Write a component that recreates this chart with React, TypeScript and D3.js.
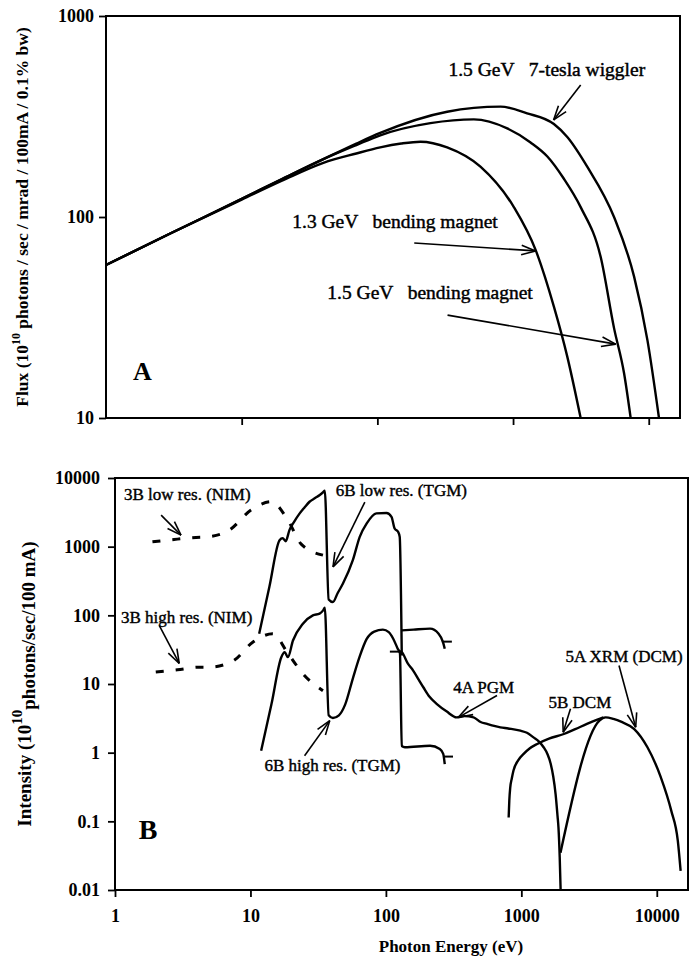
import React, { useEffect, useRef } from 'react';
import * as d3 from 'd3';

// ---- Panel A: flux curves (photon energy eV -> flux) ----
const wigglerEnergy = [1, 3, 10, 20, 40, 70, 105, 327, 809, 1270, 2000, 2510, 3520, 5550, 7800, 9780, 11900];
const wigglerFlux = [57.7, 83, 123, 155, 194, 232, 262, 334, 354, 328, 290, 250, 178, 100, 50.5, 24.4, 10];

const bm15Energy = [1, 3, 10, 20, 40, 70, 105, 246, 514, 906, 1346, 1790, 2370, 3150, 4430, 5550, 6580, 7360];
const bm15Flux = [57.7, 83, 123, 155, 194, 228, 255, 293, 306, 276, 235, 200, 155, 112, 63, 28, 16.7, 10];

const bm13Energy = [1, 3, 10, 20, 40, 70, 105, 150, 208, 327, 575, 1014, 1466, 2000, 2510, 3150];
const bm13Flux = [57.7, 83, 122, 152, 186, 207, 222, 232, 237, 222, 178, 112, 68.6, 35.8, 20.2, 10];

const fluxTicks = [10, 100, 1000];
const energyTicksA = [10, 100, 1000, 10000];

// ---- Panel B: beamline intensities ----
const nimLowEnergy = [1.89, 2.73, 3.96, 4.83, 6.98, 10.1, 14.2, 18.9, 23.7, 34.3];
const nimLowIntensity = [1175, 1273, 1362, 1390, 1740, 3410, 4510, 2440, 1087, 752];

const nimHighEnergy = [2.0, 2.89, 4.19, 4.97, 7.4, 10.4, 14.6, 18.9, 24.4, 34.3];
const nimHighIntensity = [14.9, 16.1, 17.6, 17.6, 21.5, 40.7, 54, 28, 14.1, 8.0];

const tgmLowEnergy = [11.6, 13.8, 16.4, 17.3, 18.2, 19.4, 21, 23.1, 25, 27.3, 30, 32.5, 34.4, 35.4, 37.8, 40.6, 44, 48.2, 57, 64.1, 72.2, 85, 101, 110, 116, 123, 126.5, 131];
const tgmLowIntensity = [54, 261, 1245, 1330, 1200, 1740, 2300, 3050, 3700, 4510, 5100, 5650, 6200, 6530, 170, 156, 210, 290, 635, 1390, 2180, 3050, 3100, 2720, 1840, 1650, 1390, 26];
const tgmLowTailEnergy = [131, 160, 212, 245, 264, 272];
const tgmLowTailIntensity = [60.4, 62, 64, 54, 40.7, 32.6];

const tgmHighEnergy = [12, 14.3, 16.9, 17.9, 18.9, 20.6, 24.4, 28.9, 32.4, 34.4, 35.4, 37.8, 40.6, 45, 50, 57, 64, 72, 82, 95, 105, 113, 122, 127, 131, 138, 212, 250, 265, 272];
const tgmHighIntensity = [1.07, 5.1, 24.6, 29, 24.6, 43, 75.7, 100, 106, 118, 129, 3.5, 3.2, 3.5, 5, 12, 25, 45, 58, 62, 57, 46, 33, 28, 1.25, 1.2, 1.26, 1.13, 0.96, 0.68];

const pgmEnergy = [127, 131, 145, 159, 175, 189, 210, 238, 280, 333, 380, 444, 500, 559, 630, 700, 800, 984, 1100, 1230, 1350, 1460, 1560, 1650, 1720, 1790, 1850, 1880, 1920, 1950];
const pgmIntensity = [30, 29.1, 20, 15.7, 11.5, 8.97, 6.5, 5.1, 4.0, 3.27, 3.4, 3.27, 2.8, 2.62, 2.45, 2.34, 2.25, 2.09, 1.95, 1.67, 1.45, 1.2, 0.95, 0.68, 0.45, 0.25, 0.12, 0.081, 0.03, 0.01];

const dcmEnergy = [806, 815, 828, 850, 875, 950, 1040, 1150, 1310, 1600, 2060, 2500, 3050, 3600, 4040];
const dcmIntensity = [0.114, 0.2, 0.31, 0.42, 0.55, 0.78, 0.96, 1.15, 1.34, 1.6, 1.87, 2.2, 2.62, 3.0, 3.27];

const xrmEnergy = [1945, 3770, 4190, 4780, 5500, 6820, 8530, 10700, 12800, 14300, 15000];
const xrmIntensity = [0.035, 2.93, 3.27, 3.1, 2.8, 2.21, 1.2, 0.44, 0.142, 0.052, 0.019];

// little end marks on the curves [eStart, eEnd, value]
const curveMarks = [
  [259, 307, 41.4],
  [265, 313, 0.877],
  [107, 127, 29.6],
];

const intensityTicks = [0.01, 0.1, 1, 10, 100, 1000, 10000];
const energyTicksB = [1, 10, 100, 1000, 10000];

// labels: text anchor (energy, value), arrow tail and tip (energy, value)
const labelsA = [
  { text: '1.5 GeV   7-tesla wiggler', e: 334, v: 502, from: [3150, 454], to: [1990, 304] },
  { text: '1.3 GeV   bending magnet', e: 23.6, v: 88, from: [187, 74.3], to: [1466, 67.8] },
  { text: '1.5 GeV   bending magnet', e: 42.8, v: 39.1, from: [329, 32.5], to: [5710, 23.3] },
];
const labelsB = [
  { text: '3B low res. (NIM)', e: 1.166, v: 4775, from: [2.19, 2884], to: [3.07, 1473] },
  { text: '3B high res. (NIM)', e: 1.108, v: 76.4, from: [2.12, 71.5], to: [2.98, 19.9] },
  { text: '6B low res. (TGM)', e: 42.6, v: 5455, from: [69.9, 4467], to: [40.7, 507] },
  { text: '6B high res. (TGM)', e: 12.7, v: 0.546, from: [25.1, 0.904], to: [38.5, 2.93] },
  { text: '4A PGM', e: 314, v: 7.5, from: [661, 6.79], to: [343, 3.27] },
  { text: '5B DCM', e: 1585, v: 4.54, from: [2306, 4.35], to: [2037, 1.98] },
  { text: '5A XRM (DCM)', e: 2118, v: 20.6, from: [5260, 18.6], to: [6985, 2.34] },
];

const FONT = "'Liberation Serif', 'Times New Roman', serif";

const App = () => {
  const svgRef = useRef<SVGSVGElement>(null);

  useEffect(() => {
    const svg = d3.select(svgRef.current);
    svg.selectAll('*').remove();

    svg.append('rect').attr('width', 694).attr('height', 973).attr('fill', '#fff');

    const drawCurve = (g, x, y, es: number[], vs: number[], dash?: string, width = 2.4) => {
      const line = d3.line<number>()
        .x(i => x(es[i]))
        .y(i => y(vs[i]))
        .curve(d3.curveMonotoneX);
      g.append('path')
        .datum(d3.range(es.length))
        .attr('fill', 'none')
        .attr('stroke', '#000')
        .attr('stroke-width', width)
        .attr('stroke-dasharray', dash || null)
        .attr('stroke-linejoin', 'round')
        .attr('d', line);
    };

    const drawArrow = (g, x1, y1, x2, y2) => {
      g.append('line')
        .attr('x1', x1).attr('y1', y1).attr('x2', x2).attr('y2', y2)
        .attr('stroke', '#000').attr('stroke-width', 1.6);
      const ang = Math.atan2(y1 - y2, x1 - x2);
      [-0.33, 0.33].forEach(da => {
        g.append('line')
          .attr('x1', x2).attr('y1', y2)
          .attr('x2', x2 + 15 * Math.cos(ang + da))
          .attr('y2', y2 + 15 * Math.sin(ang + da))
          .attr('stroke', '#000').attr('stroke-width', 1.6);
      });
    };

    const styleAxis = (axisG, size) => {
      axisG.select('.domain').remove();
      axisG.selectAll('line').attr('stroke', '#000').attr('stroke-width', 1.8);
      axisG.selectAll('text')
        .attr('font-family', FONT)
        .attr('font-weight', 'bold')
        .attr('font-size', size)
        .attr('fill', '#000');
    };

    // ================= Panel A =================
    const A = { left: 106, top: 16, right: 680, bottom: 418 };
    const xA = d3.scaleLog().domain([1, 17000]).range([A.left, A.right]);
    const yA = d3.scaleLog().domain([10, 1000]).range([A.bottom, A.top]);
    const gA = svg.append('g');

    const yAxisA = gA.append('g')
      .attr('transform', `translate(${A.left},0)`)
      .call(d3.axisLeft(yA).tickValues(fluxTicks).tickFormat(d3.format('d')).tickSize(7).tickPadding(5));
    styleAxis(yAxisA, 18);

    const xAxisA = gA.append('g')
      .attr('transform', `translate(0,${A.bottom})`)
      .call(d3.axisBottom(xA).tickValues(energyTicksA).tickFormat(() => '').tickSize(7));
    styleAxis(xAxisA, 18);

    gA.append('rect')
      .attr('x', A.left).attr('y', A.top)
      .attr('width', A.right - A.left).attr('height', A.bottom - A.top)
      .attr('fill', 'none').attr('stroke', '#000').attr('stroke-width', 2);

    drawCurve(gA, xA, yA, wigglerEnergy, wigglerFlux);
    drawCurve(gA, xA, yA, bm15Energy, bm15Flux);
    drawCurve(gA, xA, yA, bm13Energy, bm13Flux);

    labelsA.forEach(l => {
      gA.append('text')
        .attr('x', xA(l.e)).attr('y', yA(l.v))
        .attr('font-family', FONT).attr('font-size', 19.5)
        .attr('stroke', '#000').attr('stroke-width', 0.45)
        .style('white-space', 'pre')
        .text(l.text);
      drawArrow(gA, xA(l.from[0]), yA(l.from[1]), xA(l.to[0]), yA(l.to[1]));
    });

    gA.append('text')
      .attr('x', xA(1.58)).attr('y', yA(15.5))
      .attr('font-family', FONT).attr('font-size', 26).attr('font-weight', 'bold')
      .text('A');

    const yLabA = gA.append('text')
      .attr('transform', `translate(28,${(A.top + A.bottom) / 2}) rotate(-90)`)
      .attr('text-anchor', 'middle')
      .attr('font-family', FONT).attr('font-size', 17.5).attr('font-weight', 'bold');
    yLabA.append('tspan').text('Flux (10');
    yLabA.append('tspan').attr('dy', -8).attr('font-size', 12).text('10');
    yLabA.append('tspan').attr('dy', 8).text(' photons / sec / mrad / 100mA / 0.1% bw)');

    // ================= Panel B =================
    const B = { left: 115, top: 478, right: 688, bottom: 890 };
    const xB = d3.scaleLog().domain([1, 17000]).range([B.left, B.right]);
    const yB = d3.scaleLog().domain([0.01, 10000]).range([B.bottom, B.top]);
    const gB = svg.append('g');

    const yAxisB = gB.append('g')
      .attr('transform', `translate(${B.left},0)`)
      .call(d3.axisLeft(yB).tickValues(intensityTicks).tickFormat(d => String(d)).tickSize(7).tickPadding(8));
    styleAxis(yAxisB, 18);

    const xAxisB = gB.append('g')
      .attr('transform', `translate(0,${B.bottom})`)
      .call(d3.axisBottom(xB).tickValues(energyTicksB).tickFormat(d3.format('d')).tickSize(7).tickPadding(12));
    styleAxis(xAxisB, 18);

    gB.append('rect')
      .attr('x', B.left).attr('y', B.top)
      .attr('width', B.right - B.left).attr('height', B.bottom - B.top)
      .attr('fill', 'none').attr('stroke', '#000').attr('stroke-width', 2);

    drawCurve(gB, xB, yB, nimLowEnergy, nimLowIntensity, '8,12', 3);
    drawCurve(gB, xB, yB, nimHighEnergy, nimHighIntensity, '8,12', 3);
    drawCurve(gB, xB, yB, tgmLowEnergy, tgmLowIntensity);
    drawCurve(gB, xB, yB, tgmLowTailEnergy, tgmLowTailIntensity);
    drawCurve(gB, xB, yB, tgmHighEnergy, tgmHighIntensity);
    drawCurve(gB, xB, yB, pgmEnergy, pgmIntensity);
    drawCurve(gB, xB, yB, dcmEnergy, dcmIntensity);
    drawCurve(gB, xB, yB, xrmEnergy, xrmIntensity);

    curveMarks.forEach(m => {
      gB.append('line')
        .attr('x1', xB(m[0])).attr('x2', xB(m[1]))
        .attr('y1', yB(m[2])).attr('y2', yB(m[2]))
        .attr('stroke', '#000').attr('stroke-width', 2);
    });

    labelsB.forEach(l => {
      gB.append('text')
        .attr('x', xB(l.e)).attr('y', yB(l.v))
        .attr('font-family', FONT).attr('font-size', 17)
        .attr('stroke', '#000').attr('stroke-width', 0.4)
        .style('white-space', 'pre')
        .text(l.text);
      drawArrow(gB, xB(l.from[0]), yB(l.from[1]), xB(l.to[0]), yB(l.to[1]));
    });

    gB.append('text')
      .attr('x', xB(1.5)).attr('y', yB(0.0556))
      .attr('font-family', FONT).attr('font-size', 28).attr('font-weight', 'bold')
      .text('B');

    const yLabB = gB.append('text')
      .attr('transform', `translate(31,${(B.top + B.bottom) / 2}) rotate(-90)`)
      .attr('text-anchor', 'middle')
      .attr('font-family', FONT).attr('font-size', 19).attr('font-weight', 'bold');
    yLabB.append('tspan').text('Intensity (10');
    yLabB.append('tspan').attr('dy', -9).attr('font-size', 15).text('10');
    yLabB.append('tspan').attr('dy', 13).text('photons/sec/100 mA)');

    gB.append('text')
      .attr('x', 451).attr('y', 952)
      .attr('text-anchor', 'middle')
      .attr('font-family', FONT).attr('font-size', 17).attr('font-weight', 'bold')
      .text('Photon Energy (eV)');
  }, []);

  return (
    <svg
      ref={svgRef}
      width={694}
      height={973}
      style={{ position: 'absolute', left: 0, top: 0 }}
    />
  );
};

export default App;
